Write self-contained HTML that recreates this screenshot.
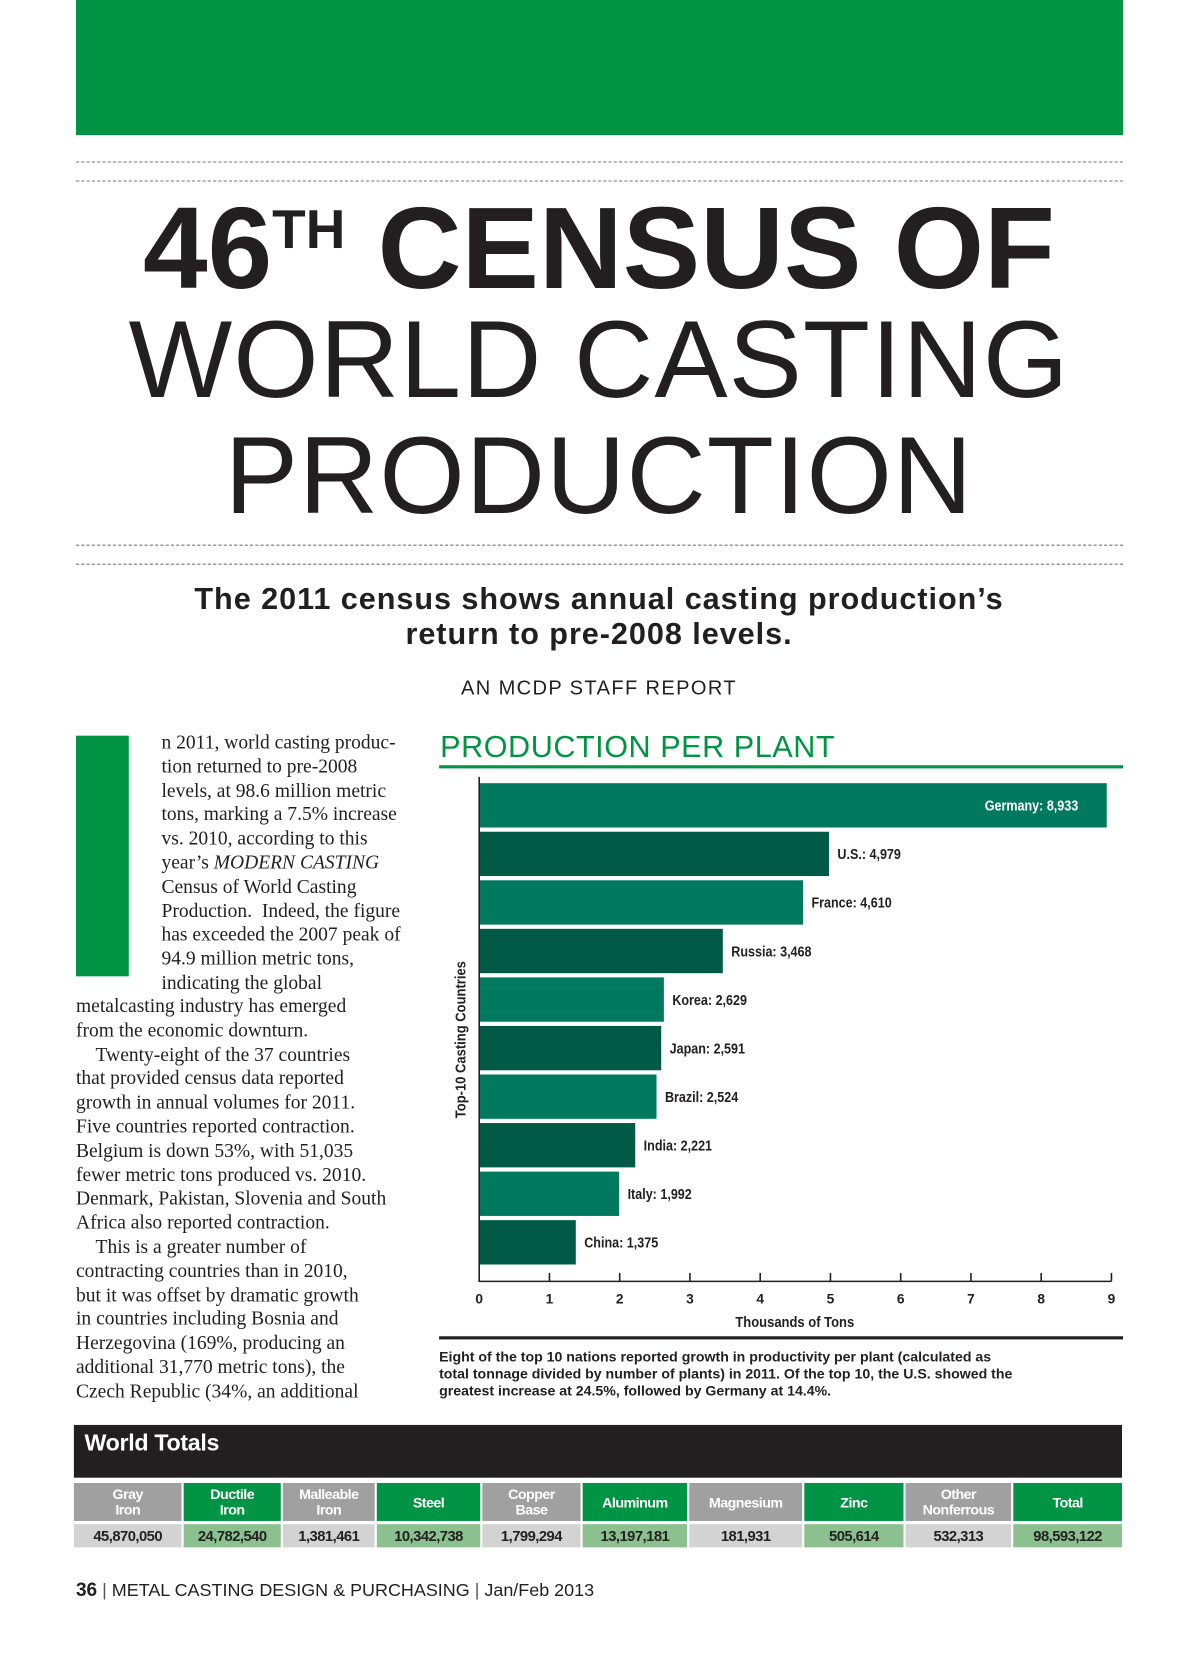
<!DOCTYPE html>
<html><head><meta charset="utf-8">
<style>
html,body{margin:0;padding:0;background:#fff;}
body{width:1200px;height:1655px;overflow:hidden;position:relative;}
#page{position:absolute;left:0;top:0;width:1135px;height:1560px;transform-origin:0 0;transform:scale(1.0555,1.0555);font-family:"Liberation Sans",sans-serif;color:#231f20;}
.abs{position:absolute;}
.dash{position:absolute;left:72px;width:992px;border-top:1.5px dashed #777;height:0;}
.h1{position:absolute;left:0;width:1135px;text-align:center;white-space:nowrap;}
.body-text{font-family:"Liberation Serif",serif;font-size:18.5px;line-height:22.8px;color:#231f20;white-space:nowrap;}
.cell{position:absolute;display:flex;align-items:center;justify-content:center;text-align:center;font-weight:bold;font-size:13.5px;line-height:15px;letter-spacing:-0.5px;}
.hg{background:#a0a0a0;color:#fff;}
.hgr{background:#009444;color:#fff;}
.vg{background:#d3d3d3;color:#222;}
.vgr{background:#8cc08f;color:#222;}
</style></head>
<body>
<div id="page">
  <div class="abs" style="left:72px;top:0;width:992px;height:128px;background:#009444;"></div>
  <div class="dash" style="top:153px"></div>
  <div class="dash" style="top:171px"></div>
  <div class="h1" style="top:158px;font-size:110px;font-weight:bold;letter-spacing:0px;line-height:120px;">46<span style="font-size:52px;vertical-align:38px;letter-spacing:0">TH</span> CENSUS OF</div>
  <div class="h1" style="top:286px;font-size:104px;font-weight:normal;line-height:110px;letter-spacing:1px;">WORLD CASTING</div>
  <div class="h1" style="top:396px;font-size:104px;line-height:110px;letter-spacing:1px;">PRODUCTION</div>
  <div class="dash" style="top:516px"></div>
  <div class="dash" style="top:534px"></div>
  <div class="h1" style="top:552px;font-size:29px;font-weight:bold;line-height:33px;letter-spacing:0.9px;">The 2011 census shows annual casting production’s<br>return to pre-2008 levels.</div>
  <div class="h1" style="top:642px;font-size:19px;line-height:22px;letter-spacing:1.3px;">AN MCDP STAFF REPORT</div>

  <div class="abs" style="left:72px;top:697px;width:50px;height:228px;background:#009444;"></div>
  <div class="abs body-text" style="left:153px;top:693px;">n 2011, world casting produc-<br>tion returned to pre-2008<br>levels, at 98.6 million metric<br>tons, marking a 7.5% increase<br>vs. 2010, according to this<br>year’s <i>MODERN CASTING</i><br>Census of World Casting<br>Production.&nbsp; Indeed, the figure<br>has exceeded the 2007 peak of<br>94.9 million metric tons,<br>indicating the global</div>
  <div class="abs body-text" style="left:72px;top:943px;">metalcasting industry has emerged<br>from the economic downturn.<br>&nbsp;&nbsp;&nbsp;&nbsp;Twenty-eight of the 37 countries<br>that provided census data reported<br>growth in annual volumes for 2011.<br>Five countries reported contraction.<br>Belgium is down 53%, with 51,035<br>fewer metric tons produced vs. 2010.<br>Denmark, Pakistan, Slovenia and South<br>Africa also reported contraction.<br>&nbsp;&nbsp;&nbsp;&nbsp;This is a greater number of<br>contracting countries than in 2010,<br>but it was offset by dramatic growth<br>in countries including Bosnia and<br>Herzegovina (169%, producing an<br>additional 31,770 metric tons), the<br>Czech Republic (34%, an additional</div>

  <div class="abs" style="left:417px;top:690px;font-size:29px;color:#009444;letter-spacing:0.5px;line-height:36px;">PRODUCTION PER PLANT</div>
  <div class="abs" style="left:416px;top:725px;width:648px;height:3px;background:#009444;"></div>
  <svg class="abs" id="chart" style="left:0;top:0;" width="1135" height="1280"></svg>
  <div class="abs" style="left:416px;top:1266px;width:648px;height:3px;background:#231f20;"></div>
  <div class="abs" style="left:416px;top:1278px;font-size:13.4px;font-weight:bold;line-height:16px;white-space:nowrap;">Eight of the top 10 nations reported growth in productivity per plant (calculated as<br>total tonnage divided by number of plants) in 2011. Of the top 10, the U.S. showed the<br>greatest increase at 24.5%, followed by Germany at 14.4%.</div>

  <div class="abs" style="left:70px;top:1350px;width:993px;height:50px;background:#231f20;"><span style="position:absolute;left:10px;top:4px;color:#fff;font-weight:bold;font-size:22px;letter-spacing:-0.3px;">World Totals</span></div>
  <div id="table"></div>

  <div class="abs" style="left:72px;top:1495px;font-size:17px;white-space:nowrap;line-height:22px;"><b style="font-size:18px">36</b> <span style="color:#555">|</span> METAL CASTING DESIGN &amp; PURCHASING <span style="color:#555">|</span> Jan/Feb 2013</div>
</div>
<script>
const countries = ["Germany","U.S.","France","Russia","Korea","Japan","Brazil","India","Italy","China"];
const valuesTons = [8933,4979,4610,3468,2629,2591,2524,2221,1992,1375];
const valueLabels = ["8,933","4,979","4,610","3,468","2,629","2,591","2,524","2,221","1,992","1,375"];
const xTicks = [0,1,2,3,4,5,6,7,8,9];

const NS = "http://www.w3.org/2000/svg";
const svg = document.getElementById('chart');
const x0 = 454, x1 = 1053, yTop = 740, yBot = 1200;
const xs = v => x0 + (v/9)*(x1-x0);
const band = (yBot-yTop)/countries.length;
const ys = i => yTop + i*band + 2;
function mk(tag, attrs){const e=document.createElementNS(NS,tag);for(const k in attrs)e.setAttribute(k,attrs[k]);svg.appendChild(e);return e;}

countries.forEach((c,i)=>{
  const v = valuesTons[i]/1000;
  const r = mk('rect',{x:x0,y:ys(i),width:xs(v)-x0,height:band-4,fill:i%2?'#005a46':'#00795f'});
  
  
  const inside = i===0;
  const lx = inside?xs(v)-27:xs(v)+8;
  const t = mk('text',{x:lx,y:ys(i)+band/2+3,'font-size':14,'font-weight':'bold','font-family':'Liberation Sans, sans-serif','text-anchor':inside?'end':'start',fill:inside?'#fff':'#231f20'});
  t.setAttribute('transform',`translate(${lx},0) scale(0.85,1) translate(${-lx},0)`);
  t.textContent = c+': '+valueLabels[i];
  
  
});
const ax = mk('path',{d:`M${x0} ${yTop-4} V1214 H${x1}`,stroke:'#231f20','stroke-width':1.5,fill:'none'});


xTicks.forEach(t=>{
  if(t>0){const l=mk('line',{x1:xs(t),x2:xs(t),y1:1206,y2:1214,stroke:'#231f20','stroke-width':1.5});
  
  }
  const tx = mk('text',{x:xs(t),y:1235,'font-size':13,'font-weight':'bold','text-anchor':'middle',fill:'#231f20','font-family':'Liberation Sans, sans-serif'});
  tx.textContent = t;
  
  
});
const xt = mk('text',{x:753,y:1257,'font-size':14,'font-weight':'bold','text-anchor':'middle',fill:'#231f20','font-family':'Liberation Sans, sans-serif',transform:'translate(753,0) scale(0.88,1) translate(-753,0)'});
xt.textContent='Thousands of Tons';


const yt = mk('text',{x:0,y:0,'font-size':14,'font-weight':'bold','text-anchor':'middle',fill:'#231f20','font-family':'Liberation Sans, sans-serif',transform:'translate(441,985) rotate(-90) scale(0.88,1)'});
yt.textContent='Top-10 Casting Countries';



const headers = ["Gray<br>Iron","Ductile<br>Iron","Malleable<br>Iron","Steel","Copper<br>Base","Aluminum","Magnesium","Zinc","Other<br>Nonferrous","Total"];
const totals = ["45,870,050","24,782,540","1,381,461","10,342,738","1,799,294","13,197,181","181,931","505,614","532,313","98,593,122"];
const colEdges = [70,173,267,356,456,551,652,761,857,959,1063];
const tbl = document.getElementById('table');
headers.forEach((h,i)=>{
  const l = colEdges[i]+(i?1:0), w = colEdges[i+1]-l-(i<9?1:0);
  const g = i%2===1;
  const hd = document.createElement('div');
  hd.className='cell '+(g?'hgr':'hg');
  hd.style.cssText=`left:${l}px;top:1405px;width:${w}px;height:36px;`;
  hd.innerHTML=h;
  
  
  tbl.appendChild(hd);
  const vd = document.createElement('div');
  vd.className='cell '+(g?'vgr':'vg');
  vd.style.cssText=`left:${l}px;top:1444px;width:${w}px;height:22px;font-size:14px;`;
  vd.textContent=totals[i];
  
  
  tbl.appendChild(vd);
});
</script>
</body></html>
